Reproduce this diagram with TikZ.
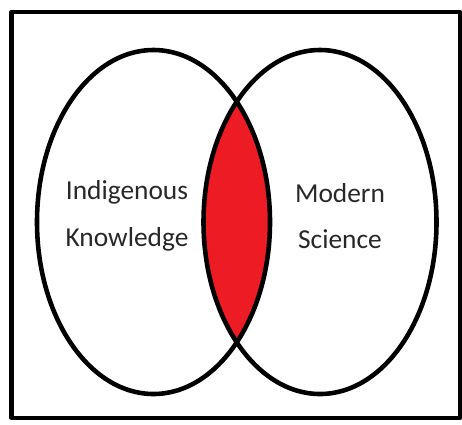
\documentclass[tikz,border=0pt]{standalone}
\usepackage{fontspec}
\setmainfont{Carlito}
\definecolor{lensred}{RGB}{237,28,36}
\definecolor{labelgray}{RGB}{40,40,40}
\begin{document}
\begin{tikzpicture}[x=0.02cm,y=0.02cm,line join=round,
  setline/.style={line width=2.6pt},
  setlabel/.style={text=labelgray,align=center,font=\fontsize{15.6}{26.5}\selectfont}]
\def \setrx{116.5}
\def \setry{172}
\useasboundingbox (0,0) rectangle (462,424);
\coordinate (ik) at (153.5,202);
\coordinate (ms) at (320,202);
% frame
\draw[line width=2.4pt] (11.5,6) rectangle (460,412);
% shared part of the two sets
\begin{scope}
\clip (ik) ellipse [x radius=\setrx, y radius=\setry];
\fill[lensred] (ms) ellipse [x radius=\setrx, y radius=\setry];
\end{scope}
\foreach \c in {ik,ms} \draw[setline] (\c) ellipse [x radius=\setrx, y radius=\setry];
\node[setlabel] (iklabel) at (127,208) {Indigenous\\Knowledge};
\node[setlabel] (mslabel) at (340,208) {Modern\\Science};
\end{tikzpicture}
\end{document}
